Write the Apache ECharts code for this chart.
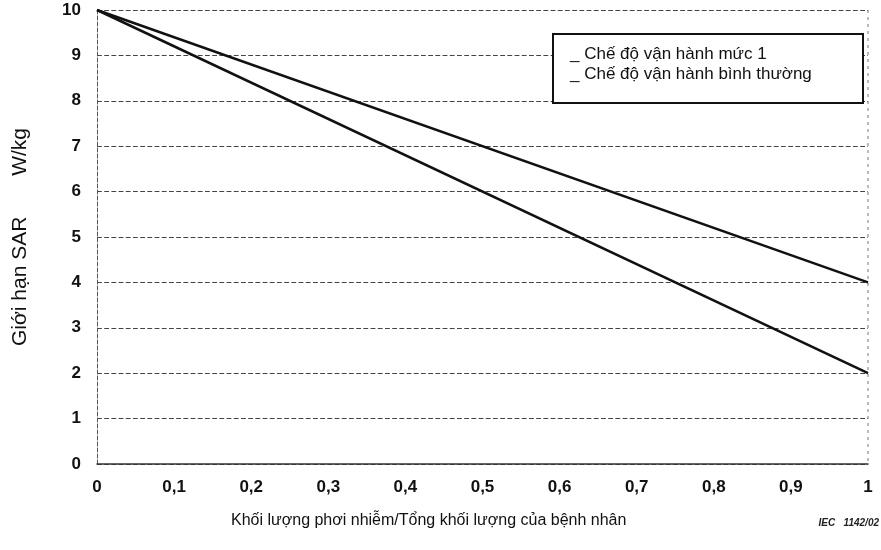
<!DOCTYPE html>
<html>
<head>
<meta charset="utf-8">
<script src="https://cdn.jsdelivr.net/npm/echarts@6/dist/echarts.min.js"></script>
<style>
  html, body { margin: 0; padding: 0; background: #fff; }
  #chart { width: 881px; height: 550px; }
</style>
</head>
<body>
<div id="chart"></div>
<script>
// ti le khoi luong phoi nhiem
const xValues = [0, 1];
const level1 = [10, 4];
const normal = [10, 2];
const seriesNames = ['Chế độ vận hành mức 1', 'Chế độ vận hành bình thường'];

const myChart = echarts.init(document.getElementById('chart'));
const font = 'Liberation Sans, Arial, sans-serif';

const option = {
  backgroundColor: '#fff',
  animation: false,
  grid: { left: 97, right: 13, top: 10, bottom: 86 },
  legend: {
    data: seriesNames,
    orient: 'vertical',
    left: 565,
    top: 45,
    z: 10,
    icon: 'none',
    itemWidth: 0,
    itemHeight: 18,
    itemGap: 3,
    padding: 0,
    formatter: function (name) { return '_ ' + name; },
    textStyle: { fontFamily: font, fontSize: 17, color: '#111' }
  },
  xAxis: {
    type: 'value',
    min: 0,
    max: 1,
    interval: 0.1,
    axisLine: { show: true, lineStyle: { color: '#333', width: 1.5 } },
    axisTick: { show: false },
    axisLabel: {
      margin: 15,
      fontFamily: font,
      fontSize: 17,
      fontWeight: 'bold',
      color: '#111',
      formatter: function (v) { return v === 0 || v === 1 ? String(v) : v.toFixed(1).replace('.', ','); }
    },
    splitLine: { show: false }
  },
  yAxis: {
    type: 'value',
    min: 0,
    max: 10,
    interval: 1,
    name: 'Giới hạn SAR       W/kg',
    nameLocation: 'middle',
    nameGap: 66,
    nameTextStyle: { fontFamily: font, fontSize: 21, color: '#111' },
    axisLine: { show: true, lineStyle: { color: '#555', type: 'dashed', width: 1 } },
    axisTick: { show: false },
    axisLabel: { margin: 16, fontFamily: font, fontSize: 17, fontWeight: 'bold', color: '#111' },
    splitLine: { show: true, lineStyle: { color: '#444', type: 'dashed', width: 1.2 } }
  },
  graphic: [
    {
      type: 'line',
      shape: { x1: 868, y1: 10, x2: 868, y2: 464 },
      style: { stroke: '#777', lineDash: [3, 4], lineWidth: 1 }
    },
    {
      type: 'rect',
      shape: { x: 553, y: 34, width: 310, height: 69 },
      style: { fill: '#fff', stroke: '#111', lineWidth: 2 },
      z: 3
    },
    {
      type: 'text',
      left: 231,
      top: 513,
      style: { text: 'Khối lượng phơi nhiễm/Tổng khối lượng của bệnh nhân', font: '16px ' + font, fill: '#111' }
    },
    {
      type: 'text',
      right: 2,
      top: 518,
      style: { text: 'IEC   1142/02', font: 'italic bold 10px ' + font, fill: '#222' }
    }
  ],
  series: [
    {
      name: seriesNames[0],
      type: 'line',
      data: xValues.map((x, i) => [x, level1[i]]),
      symbol: 'none',
      lineStyle: { color: '#111', width: 2.5 }
    },
    {
      name: seriesNames[1],
      type: 'line',
      data: xValues.map((x, i) => [x, normal[i]]),
      symbol: 'none',
      lineStyle: { color: '#111', width: 2.5 }
    }
  ]
};

myChart.setOption(option);
</script>
</body>
</html>
